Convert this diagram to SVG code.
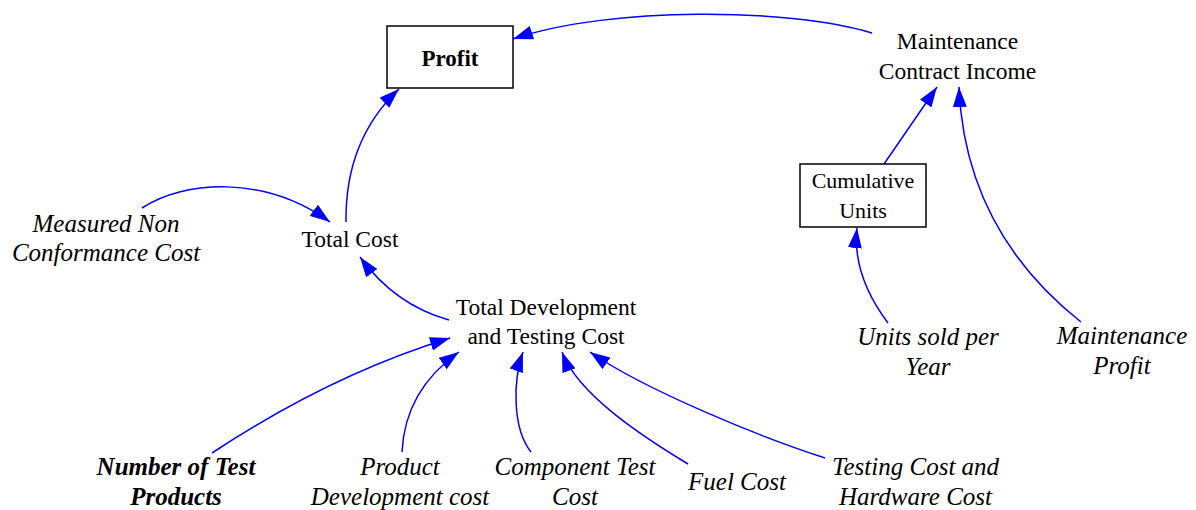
<svg xmlns="http://www.w3.org/2000/svg" width="1196" height="510" viewBox="0 0 1196 510">
  <defs>
    <style>
      .lbl { font-family: "Liberation Serif", "Times New Roman", serif; font-size: 23.5px; fill: #000; text-anchor: middle; }
      .aux { font-family: "Liberation Serif", "Times New Roman", serif; font-size: 25px; font-style: italic; fill: #000; text-anchor: middle; }
      .box { fill: #fff; stroke: #000; stroke-width: 1.5; }
      .link { fill: none; stroke: #0000ff; stroke-width: 1.5; marker-end: url(#arrow); }
    </style>
    <marker id="arrow" markerUnits="userSpaceOnUse" markerWidth="20" markerHeight="14" refX="20" refY="7" orient="auto">
      <path d="M0,0 L20,7 L0,14 z" fill="#0000ff"/>
    </marker>
  </defs>
  <rect width="1196" height="510" fill="#fff"/>

  <g id="connectors">
    <!-- Maintenance Contract Income -> Profit -->
    <path class="link" d="M872,33 C790,8 610,6 513,39"/>
    <!-- Total Cost -> Profit -->
    <path class="link" d="M346,222 Q345,140 399,89"/>
    <!-- Measured Non Conformance Cost -> Total Cost -->
    <path class="link" d="M142,208 C185,180 265,175 330,222"/>
    <!-- Total Development and Testing Cost -> Total Cost -->
    <path class="link" d="M449,320 Q395,305 360,257"/>
    <!-- Cumulative Units -> Maintenance Contract Income -->
    <path class="link" d="M884,164 L937,87"/>
    <!-- Maintenance Profit -> Maintenance Contract Income -->
    <path class="link" d="M1081,322 Q965,230 959,87"/>
    <!-- Units sold per Year -> Cumulative Units -->
    <path class="link" d="M888,323 Q852,275 857,228"/>
    <!-- inputs of Total Development and Testing Cost -->
    <path class="link" d="M212,453 Q330,375 450,338"/>
    <path class="link" d="M402,452 Q405,390 459,352"/>
    <path class="link" d="M531,452 C512,428 513,380 523,352"/>
    <path class="link" d="M688,464 C645,438 578,395 562,352"/>
    <path class="link" d="M825,458 C760,437 645,390 590,352"/>
  </g>

  <g id="profit">
    <rect class="box" x="387" y="26" width="126" height="62"/>
    <text class="lbl" x="450" y="66" style="font-weight:bold;font-size:23px">Profit</text>
  </g>

  <g id="maintenance-contract-income">
    <text class="lbl" x="957.5" y="48.5">Maintenance</text>
    <text class="lbl" x="957.5" y="79">Contract Income</text>
  </g>

  <g id="cumulative-units">
    <rect class="box" x="800" y="164" width="126" height="63"/>
    <text class="lbl" x="863" y="188" style="font-size:22px">Cumulative</text>
    <text class="lbl" x="863" y="218" style="font-size:22px">Units</text>
  </g>

  <g id="total-cost">
    <text class="lbl" x="350" y="247">Total Cost</text>
  </g>

  <g id="measured-non-conformance-cost">
    <text class="aux" x="106" y="231.5">Measured Non</text>
    <text class="aux" x="106" y="260.5">Conformance Cost</text>
  </g>

  <g id="total-development-and-testing-cost">
    <text class="lbl" x="546" y="315">Total Development</text>
    <text class="lbl" x="546" y="344">and Testing Cost</text>
  </g>

  <g id="units-sold-per-year">
    <text class="aux" x="928" y="345">Units sold per</text>
    <text class="aux" x="928" y="375">Year</text>
  </g>

  <g id="maintenance-profit">
    <text class="aux" x="1122" y="344">Maintenance</text>
    <text class="aux" x="1122" y="374">Profit</text>
  </g>

  <g id="number-of-test-products">
    <text class="aux" x="176" y="475" style="font-weight:bold">Number of Test</text>
    <text class="aux" x="176" y="505" style="font-weight:bold">Products</text>
  </g>

  <g id="product-development-cost">
    <text class="aux" x="400" y="475">Product</text>
    <text class="aux" x="400" y="505">Development cost</text>
  </g>

  <g id="component-test-cost">
    <text class="aux" x="575" y="475">Component Test</text>
    <text class="aux" x="575" y="505">Cost</text>
  </g>

  <g id="fuel-cost">
    <text class="aux" x="737" y="489.5">Fuel Cost</text>
  </g>

  <g id="testing-cost-and-hardware-cost">
    <text class="aux" x="915.5" y="475">Testing Cost and</text>
    <text class="aux" x="915.5" y="505">Hardware Cost</text>
  </g>
</svg>
